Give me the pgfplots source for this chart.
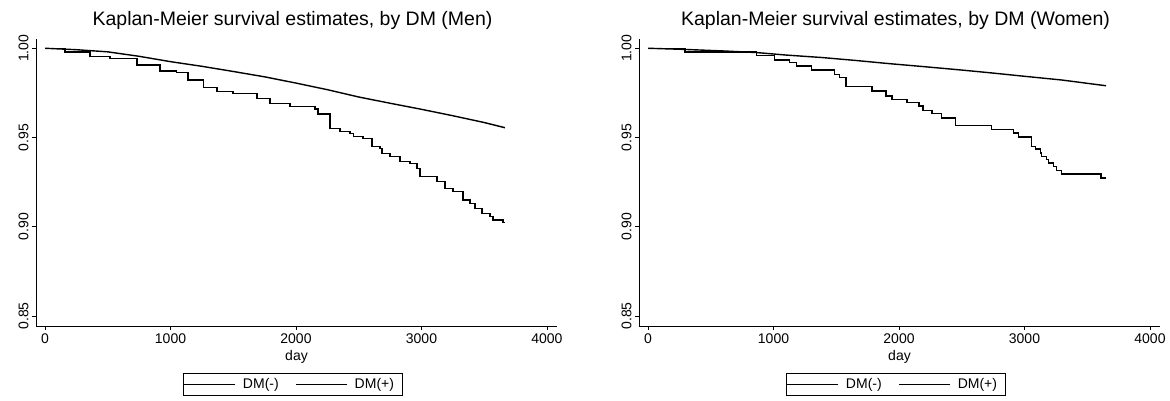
\documentclass[border=0pt]{standalone}
\usepackage{pgfplots}
\pgfplotsset{compat=1.18}
\usepackage{pgfplotstable}
\usepackage{fontspec}
\setmainfont{Liberation Sans}

% Men
\pgfplotstableread{
day surv
0    1.0000
250  0.9992
500  0.9980
750  0.9955
1000 0.9925
1250 0.9899
1500 0.9870
1750 0.9840
2000 0.9805
2250 0.9768
2500 0.9727
2750 0.9692
3000 0.9658
3250 0.9622
3500 0.9584
3665 0.9555
}\menneg
\pgfplotstableread{
day surv
0    1.0000
159  0.9980
359  0.9953
518  0.9944
733  0.9906
916  0.9873
1050 0.9865
1140 0.9822
1262 0.9781
1370 0.9757
1498 0.9748
1689 0.9720
1793 0.9692
1952 0.9673
2151 0.9660
2175 0.9632
2271 0.9552
2351 0.9533
2430 0.9524
2456 0.9505
2534 0.9496
2606 0.9449
2669 0.9440
2685 0.9412
2749 0.9392
2829 0.9364
2908 0.9355
2964 0.9327
2988 0.9280
3124 0.9252
3187 0.9215
3251 0.9196
3331 0.9150
3386 0.9131
3426 0.9103
3482 0.9075
3546 0.9056
3570 0.9038
3649 0.9025
3665 0.9025
}\menpos
% Women
\pgfplotstableread{
day surv
0    1.0000
278  0.9994
600  0.9985
865  0.9976
1100 0.9962
1389 0.9948
1650 0.9932
1921 0.9914
2200 0.9897
2500 0.9878
2750 0.9861
3000 0.9843
3300 0.9822
3650 0.9790
}\womneg
\pgfplotstableread{
day surv
0    1.0000
294  0.9980
865  0.9961
1008 0.9934
1127 0.9920
1183 0.9900
1302 0.9878
1484 0.9854
1524 0.9835
1579 0.9785
1786 0.9760
1897 0.9732
1944 0.9713
2063 0.9695
2159 0.9676
2190 0.9652
2262 0.9633
2341 0.9610
2452 0.9569
2738 0.9545
2913 0.9526
2952 0.9504
3056 0.9451
3087 0.9436
3127 0.9414
3135 0.9395
3175 0.9376
3190 0.9358
3230 0.9339
3254 0.9315
3294 0.9296
3611 0.9274
3651 0.9274
}\wompos

\pgfplotsset{
  km/.style={
    scale only axis, width=521pt, height=287pt,
    xmin=-72, xmax=4080, ymin=0.8444, ymax=1.0052,
    axis lines=left, axis line style={-, line width=0.9pt},
    xtick={0,1000,2000,3000,4000},
    ytick={0.85,0.90,0.95,1.00},
    tick align=outside, major tick length=4pt,
    tick style={black, line width=0.8pt},
    /pgf/number format/assume math mode=true,
    ticklabel style={font=\fontsize{14}{16}\selectfont},
    xticklabel style={/pgf/number format/1000 sep={}},
    yticklabel style={rotate=90, anchor=south,
      /pgf/number format/fixed, /pgf/number format/fixed zerofill,
      /pgf/number format/precision=2},
    title style={at={(axis description cs:0.5,1)}, anchor=base, yshift=7pt, xshift=-4pt,
      font=\fontsize{19.5}{22}\selectfont},
    xlabel={day},
    xlabel style={at={(axis description cs:0.5,0)}, anchor=base, yshift=-35pt,
      font=\fontsize{14}{16}\selectfont},
    legend columns=2,
    legend style={at={(axis description cs:0.5,0)}, anchor=north, yshift=-47pt, xshift=-4pt,
      draw=black, line width=0.8pt, font=\fontsize{14}{16}\selectfont,
      inner xsep=1pt, inner ysep=2pt, nodes={inner xsep=7pt, inner ysep=3pt},
      /tikz/every even column/.append style={column sep=10pt}},
    legend image code/.code={\draw[#1, line width=1pt] (0pt,0pt) -- (51pt,0pt);},
    km line/.style={black, line width=1.4pt, no marks},
  }
}

\begin{document}
\begin{tikzpicture}
\useasboundingbox (0,0) rectangle (1170pt,401pt);
\begin{axis}[km, at={(36pt,75pt)}, anchor=south west,
  title={Kaplan-Meier survival estimates, by DM (Men)}]
\addplot[km line] table[x=day,y=surv] {\menneg};
\addlegendentry{DM(-)}
\addplot[km line, const plot mark left] table[x=day,y=surv] {\menpos};
\addlegendentry{DM(+)}
\end{axis}
\begin{axis}[km, at={(639pt,75pt)}, anchor=south west,
  title={Kaplan-Meier survival estimates, by DM (Women)}]
\addplot[km line] table[x=day,y=surv] {\womneg};
\addlegendentry{DM(-)}
\addplot[km line, const plot mark left] table[x=day,y=surv] {\wompos};
\addlegendentry{DM(+)}
\end{axis}
\end{tikzpicture}
\end{document}
